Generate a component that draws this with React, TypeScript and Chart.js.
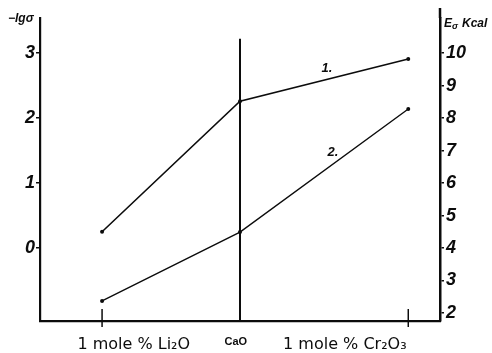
import React, { useEffect, useRef } from "react";
import { Chart, registerables } from "chart.js";

Chart.register(...registerables);

// composition axis: Li2O side (negative), CaO (0), Cr2O3 side (positive)
const compositionX = [-1, 0, 1.22];
const xLabelPos = [-0.77, -0.03, 0.76];
const xLabels = ["1 mole % Li₂O", "CaO", "1 mole % Cr₂O₃"];

// curve 1: left axis (−lg σ)
const curve1 = [0.25, 2.26, 2.91];
// curve 2: right axis (Eσ, kcal)
const curve2 = [2.37, 4.49, 8.28];

const leftTicks = [0, 1, 2, 3];
const rightTicks = [2, 3, 4, 5, 6, 7, 8, 9, 10];

const INK = "#0c0c0c";

const decorations = {
  id: "decorations",
  afterDraw(chart: any) {
    const { ctx, chartArea, scales } = chart;
    const x = scales.x;
    ctx.save();
    ctx.strokeStyle = INK;
    ctx.fillStyle = INK;
    // right axis runs slightly above the plot top
    ctx.lineWidth = 2.5;
    ctx.beginPath();
    ctx.moveTo(chartArea.right, chartArea.top);
    ctx.lineTo(chartArea.right, chartArea.top - 10);
    ctx.stroke();
    // crossing tick marks on the composition axis
    ctx.lineWidth = 1.5;
    [compositionX[0], compositionX[2]].forEach((v) => {
      const px = x.getPixelForValue(v);
      ctx.beginPath();
      ctx.moveTo(px, chartArea.bottom - 12);
      ctx.lineTo(px, chartArea.bottom + 6);
      ctx.stroke();
    });
    // axis titles
    ctx.font = "bold italic 12px 'Liberation Sans', sans-serif";
    ctx.textBaseline = "alphabetic";
    ctx.textAlign = "left";
    ctx.fillText("−lgσ", 8, 22);
    ctx.fillText("E", 444, 27);
    ctx.font = "bold italic 9px 'Liberation Sans', sans-serif";
    ctx.fillText("σ", 452, 29);
    ctx.font = "bold italic 12px 'Liberation Sans', sans-serif";
    ctx.fillText("Kcal", 462, 27);
    // curve numbers
    ctx.font = "bold italic 13px 'Liberation Sans', sans-serif";
    ctx.textAlign = "center";
    ctx.fillText("1.", 327, 72);
    ctx.fillText("2.", 333, 156);
    ctx.restore();
  },
};

const tickFont = { family: "'Liberation Sans', sans-serif", size: 18, style: "italic" as const, weight: "bold" as const };

export default function App() {
  const ref = useRef<HTMLCanvasElement>(null);

  useEffect(() => {
    if (!ref.current) return;
    const chart = new Chart(ref.current, {
      type: "line",
      data: {
        datasets: [
          {
            label: "1",
            data: compositionX.map((x, i) => ({ x, y: curve1[i] })),
            yAxisID: "y",
            borderColor: INK,
            backgroundColor: INK,
            borderWidth: 1.6,
            pointRadius: 2,
            pointBorderWidth: 0,
            tension: 0,
          },
          {
            label: "2",
            data: compositionX.map((x, i) => ({ x, y: curve2[i] })),
            yAxisID: "y1",
            borderColor: INK,
            backgroundColor: INK,
            borderWidth: 1.4,
            pointRadius: 2,
            pointBorderWidth: 0,
            tension: 0,
          },
          {
            label: "CaO",
            data: [
              { x: compositionX[1], y: -1.2 },
              { x: compositionX[1], y: 3.22 },
            ],
            yAxisID: "y",
            borderColor: INK,
            borderWidth: 2,
            pointRadius: 0,
          },
        ],
      },
      options: {
        animation: false,
        responsive: false,
        maintainAspectRatio: false,
        layout: { padding: { top: 18, left: 0, right: 0, bottom: 0 } },
        plugins: {
          legend: { display: false },
          tooltip: { enabled: false },
        },
        scales: {
          x: {
            type: "linear",
            min: -1.45,
            max: 1.45,
            afterFit: (s: any) => {
              s.height = 32;
            },
            afterBuildTicks: (s: any) => {
              s.ticks = xLabelPos.map((v) => ({ value: v }));
            },
            grid: { display: false },
            border: { display: true, color: INK, width: 2.2 },
            ticks: {
              autoSkip: false,
              maxRotation: 0,
              padding: 6,
              color: INK,
              callback: (_v: any, i: number) => xLabels[i],
              font: (c: any) =>
                c.index === 1
                  ? { family: "'Liberation Sans', sans-serif", size: 11, weight: "bold" }
                  : { family: "'DejaVu Sans', sans-serif", size: 16 },
            },
          },
          y: {
            position: "left",
            min: -1.123,
            max: 3.54,
            afterFit: (s: any) => {
              s.width = 40;
            },
            afterBuildTicks: (s: any) => {
              s.ticks = leftTicks.map((v) => ({ value: v }));
            },
            grid: {
              display: true,
              drawOnChartArea: false,
              drawTicks: true,
              tickLength: 4,
              color: INK,
              lineWidth: 1.5,
            },
            border: { display: true, color: INK, width: 2.2 },
            ticks: { color: INK, padding: 1, font: tickFont },
          },
          y1: {
            position: "right",
            min: 1.754,
            max: 11.08,
            afterFit: (s: any) => {
              s.width = 52;
            },
            afterBuildTicks: (s: any) => {
              s.ticks = rightTicks.map((v) => ({ value: v }));
            },
            grid: {
              display: true,
              drawOnChartArea: false,
              drawTicks: true,
              tickLength: 4,
              color: INK,
              lineWidth: 1.5,
            },
            border: { display: true, color: INK, width: 2.5 },
            ticks: { color: INK, padding: 2, font: tickFont },
          },
        },
      },
      plugins: [decorations],
    });
    return () => chart.destroy();
  }, []);

  return (
    <div style={{ position: "absolute", left: 0, top: 0, width: 492, height: 353, background: "#fff" }}>
      <canvas ref={ref} width={492} height={353} />
    </div>
  );
}
